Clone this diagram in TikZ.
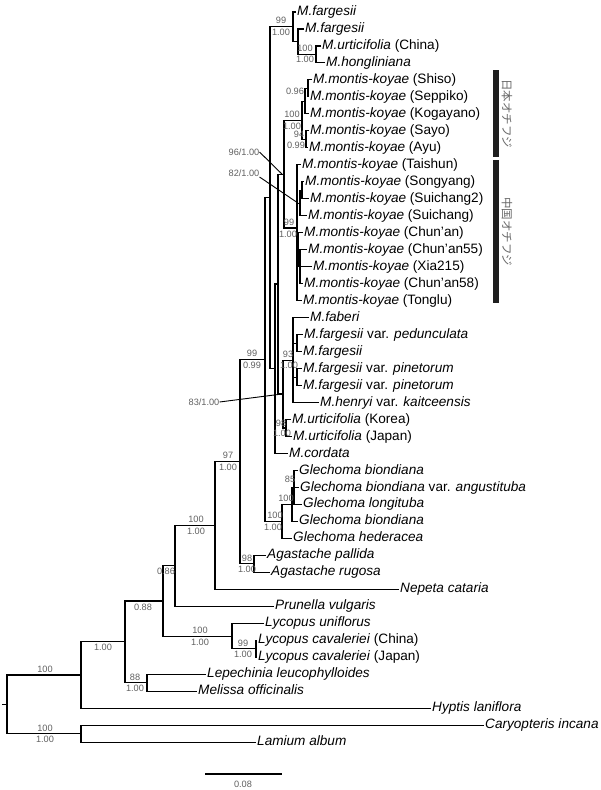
\documentclass[tikz,border=0pt]{standalone}
\usepackage{fontspec}
\setmainfont{Liberation Sans}
\newfontfamily\jpfont{Noto Sans CJK JP}
\begin{document}
\begin{tikzpicture}[x=1pt,y=-1pt,
  leaf/.style={anchor=west,inner sep=0.8pt,font=\fontsize{13.6}{15}\selectfont,text height=9.6pt,text depth=2.6pt},
  bs/.style={inner sep=0pt,font=\fontsize{9.2}{10}\selectfont,text=black!62},
  br/.style={line width=1.1pt,line join=miter},
  ptr/.style={line width=0.9pt},
  barbox/.style={fill=black!88,draw=none,minimum width=6pt,inner sep=0pt},
  grp/.style={font=\jpfont\fontsize{11.5}{12}\selectfont,text=black!60,rotate=-90,inner sep=0pt}]
\useasboundingbox (0,0) rectangle (600,790);
% leaves
\node[leaf] (l1) at (296.2,12) {\itshape M.fargesii};
\node[leaf] (l2) at (304.2,29) {\itshape M.fargesii};
\node[leaf] (l3) at (321.2,46) {\textit{M.urticifolia} (China)};
\node[leaf] (l4) at (325.2,62.9) {\itshape M.hongliniana};
\node[leaf] (l5) at (312.2,79.9) {\textit{M.montis-koyae} (Shiso)};
\node[leaf] (l6) at (309.2,96.9) {\textit{M.montis-koyae} (Seppiko)};
\node[leaf] (l7) at (309.2,113.9) {\textit{M.montis-koyae} (Kogayano)};
\node[leaf] (l8) at (309.2,130.9) {\textit{M.montis-koyae} (Sayo)};
\node[leaf] (l9) at (308.2,147.8) {\textit{M.montis-koyae} (Ayu)};
\node[leaf] (l10) at (301.2,164.8) {\textit{M.montis-koyae} (Taishun)};
\node[leaf] (l11) at (304.2,181.8) {\textit{M.montis-koyae} (Songyang)};
\node[leaf] (l12) at (309.2,198.8) {\textit{M.montis-koyae} (Suichang2)};
\node[leaf] (l13) at (307.2,215.8) {\textit{M.montis-koyae} (Suichang)};
\node[leaf] (l14) at (303.2,232.7) {\textit{M.montis-koyae} (Chun’an)};
\node[leaf] (l15) at (307.2,249.7) {\textit{M.montis-koyae} (Chun’an55)};
\node[leaf] (l16) at (312.2,266.7) {\textit{M.montis-koyae} (Xia215)};
\node[leaf] (l17) at (303.2,283.7) {\textit{M.montis-koyae} (Chun’an58)};
\node[leaf] (l18) at (302.2,300.7) {\textit{M.montis-koyae} (Tonglu)};
\node[leaf] (l19) at (309.2,317.6) {\itshape M.faberi};
\node[leaf] (l20) at (303.2,334.6) {\textit{M.fargesii} var. \textit{pedunculata}};
\node[leaf] (l21) at (302.2,351.6) {\itshape M.fargesii};
\node[leaf] (l22) at (302.2,368.6) {\textit{M.fargesii} var. \textit{pinetorum}};
\node[leaf] (l23) at (302.2,385.6) {\textit{M.fargesii} var. \textit{pinetorum}};
\node[leaf] (l24) at (319.2,402.5) {\textit{M.henryi} var. \textit{kaitceensis}};
\node[leaf] (l25) at (291.2,419.5) {\textit{M.urticifolia} (Korea)};
\node[leaf] (l26) at (292.2,436.5) {\textit{M.urticifolia} (Japan)};
\node[leaf] (l27) at (288.2,453.5) {\itshape M.cordata};
\node[leaf] (l28) at (298.2,470.5) {\itshape Glechoma biondiana};
\node[leaf] (l29) at (299.2,487.5) {\textit{Glechoma biondiana} var. \textit{angustituba}};
\node[leaf] (l30) at (302.2,504.4) {\itshape Glechoma longituba};
\node[leaf] (l31) at (298.2,521.4) {\itshape Glechoma biondiana};
\node[leaf] (l32) at (292.2,538.4) {\itshape Glechoma hederacea};
\node[leaf] (l33) at (266.2,555.4) {\itshape Agastache pallida};
\node[leaf] (l34) at (270.2,572.4) {\itshape Agastache rugosa};
\node[leaf] (l35) at (399.2,589.3) {\itshape Nepeta cataria};
\node[leaf] (l36) at (274.2,606.3) {\itshape Prunella vulgaris};
\node[leaf] (l37) at (264.2,623.3) {\itshape Lycopus uniflorus};
\node[leaf] (l38) at (257.2,640.3) {\textit{Lycopus cavaleriei} (China)};
\node[leaf] (l39) at (257.2,657.3) {\textit{Lycopus cavaleriei} (Japan)};
\node[leaf] (l40) at (206.2,674.2) {\itshape Lepechinia leucophylloides};
\node[leaf] (l41) at (197.2,691.2) {\itshape Melissa officinalis};
\node[leaf] (l42) at (431.2,708.2) {\itshape Hyptis laniflora};
\node[leaf] (l43) at (484.2,725.2) {\itshape Caryopteris incana};
\node[leaf] (l44) at (256.2,742.2) {\itshape Lamium album};
% internal nodes
\coordinate (a1) at (308,88.4);
\coordinate (c) at (305,101.15);
\coordinate (a2) at (306,139.35);
\coordinate (W) at (302,120.25);
\coordinate (Q) at (316,54.4);
\coordinate (R) at (298,41.7);
\coordinate (P) at (293,26.85);
\coordinate (HH) at (302,190.3);
\coordinate (GG) at (300,203.05);
\coordinate (KK) at (300,266.7);
\coordinate (II) at (298,249.7);
\coordinate (AA) at (297,228);
\coordinate (V) at (284,174.1);
\coordinate (sub1) at (297,343.1);
\coordinate (sub2) at (297,377.1);
\coordinate (CC) at (293,360.05);
\coordinate (DD) at (286,428);
\coordinate (BB) at (283,394);
\coordinate (T1) at (278,284);
\coordinate (T2) at (275,368.75);
\coordinate (S) at (270,197.8);
\coordinate (FF) at (294,487.45);
\coordinate (EE) at (292,504.4);
\coordinate (O) at (282,521.4);
\coordinate (N) at (265,359.6);
\coordinate (M) at (254,563.9);
\coordinate (L) at (240,461.75);
\coordinate (J) at (215,525.5);
\coordinate (E) at (175,565.9);
\coordinate (G) at (256,648.8);
\coordinate (F) at (232,636.05);
\coordinate (C) at (163,600.98);
\coordinate (D) at (147,682.7);
\coordinate (B) at (125,641.84);
\coordinate (A) at (81,675.02);
\coordinate (K) at (81,733.7);
\coordinate (root) at (7,704.36);
\coordinate (rt) at (2,704.36);
% branches
\draw[br] (l5.west) -| (a1) |- (l6.west);
\draw[br] (a1) -| (c) |- (l7.west);
\draw[br] (l8.west) -| (a2) |- (l9.west);
\draw[br] (c) -| (W) |- (a2);
\draw[br] (l3.west) -| (Q) |- (l4.west);
\draw[br] (l2.west) -| (R) |- (Q);
\draw[br] (l1.west) -| (P) |- (R);
\draw[br] (l11.west) -| (HH) |- (l12.west);
\draw[br] (HH) -| (GG) |- (l13.west);
\draw[br] (l15.west) -| (KK) |- (l17.west);
\draw[br] (KK) -- (l16.west -| KK) -- (l16.west);
\draw[br] (l14.west) -| (II) |- (KK);
\draw[br] (l10.west) -| (AA) |- (l18.west);
\draw[br] (AA |- GG) -- (GG);
\draw[br] (AA |- II) -- (II);
\draw[br] (W) -| (V) |- (AA);
\draw[br] (l20.west) -| (sub1) |- (l21.west);
\draw[br] (l22.west) -| (sub2) |- (l23.west);
\draw[br] (l19.west) -| (CC) |- (l24.west);
\draw[br] (CC |- sub1) -- (sub1);
\draw[br] (CC |- sub2) -- (sub2);
\draw[br] (l25.west) -| (DD) |- (l26.west);
\draw[br] (CC) -| (BB) |- (DD);
\draw[br] (V) -| (T1) |- (BB);
\draw[br] (T1) -| (T2) |- (l27.west);
\draw[br] (P) -| (S) |- (T2);
\draw[br] (l28.west) -| (FF) |- (l30.west);
\draw[br] (FF |- l29.west) -- (l29.west);
\draw[br] (FF) -| (EE) |- (l31.west);
\draw[br] (EE) -| (O) |- (l32.west);
\draw[br] (S) -| (N) |- (O);
\draw[br] (l33.west) -| (M) |- (l34.west);
\draw[br] (N) -| (L) |- (M);
\draw[br] (L) -| (J) |- (l35.west);
\draw[br] (J) -| (E) |- (l36.west);
\draw[br] (l38.west) -| (G) |- (l39.west);
\draw[br] (l37.west) -| (F) |- (G);
\draw[br] (E) -| (C) |- (F);
\draw[br] (l40.west) -| (D) |- (l41.west);
\draw[br] (C) -| (B) |- (D);
\draw[br] (B) -| (A) |- (l42.west);
\draw[br] (l43.west) -| (K) |- (l44.west);
\draw[br] (A) -| (root) |- (K);
\draw[br] (rt) -- (root);
% support labels
\node[bs] (s1) at (281,20) {99};
\node[bs] (s2) at (281,32) {1.00};
\node[bs] (s3) at (305,48) {100};
\node[bs] (s4) at (305,59.5) {1.00};
\node[bs] (s5) at (295,91) {0.96};
\node[bs] (s6) at (292,114) {100};
\node[bs] (s7) at (292,126) {1.00};
\node[bs] (s8) at (299,134.5) {94};
\node[bs] (s9) at (296,145.5) {0.99};
\node[bs] (s10) at (244,152) {96/1.00};
\node[bs] (s11) at (244,173) {82/1.00};
\node[bs] (s12) at (289,222) {99};
\node[bs] (s13) at (288,234) {1.00};
\node[bs] (s14) at (252,353) {99};
\node[bs] (s15) at (252,365) {0.99};
\node[bs] (s16) at (288,354) {93};
\node[bs] (s17) at (289,365) {1.00};
\node[bs] (s18) at (204,402) {83/1.00};
\node[bs] (s19) at (281,423) {98};
\node[bs] (s20) at (282,433.5) {1.00};
\node[bs] (s21) at (228,455) {97};
\node[bs] (s22) at (228,467) {1.00};
\node[bs] (s23) at (196,519) {100};
\node[bs] (s24) at (196,531) {1.00};
\node[bs] (s25) at (275,515) {100};
\node[bs] (s26) at (273,527) {1.00};
\node[bs] (s27) at (286,498) {100};
\node[bs] (s28) at (290,479.5) {85};
\node[bs] (s29) at (247,558) {98};
\node[bs] (s30) at (247,569.5) {1.00};
\node[bs] (s31) at (166,571.5) {0.86};
\node[bs] (s32) at (143,607.5) {0.88};
\node[bs] (s33) at (103,647.5) {1.00};
\node[bs] (s34) at (200,630) {100};
\node[bs] (s35) at (200,642) {1.00};
\node[bs] (s36) at (243,643.5) {99};
\node[bs] (s37) at (243,654) {1.00};
\node[bs] (s38) at (135,677.5) {88};
\node[bs] (s39) at (135,688.5) {1.00};
\node[bs] (s40) at (45,669.5) {100};
\node[bs] (s41) at (45,728.5) {100};
\node[bs] (s42) at (45,739.5) {1.00};
% pointers
\draw[ptr] (s10.east) -- ([xshift=-2pt]V);
\draw[ptr] ([yshift=-4pt]s11.east) -- ([xshift=-2pt]GG);
\draw[ptr] (s18.east) -- ([xshift=-1pt]BB);
% group bars
\node[barbox,minimum height=87pt] (bar1) at (496,113.5) {};
\node[barbox,minimum height=143pt] (bar2) at (496,231.5) {};
\node[grp] (g1) at (507,113.5) {日本オチフジ};
\node[grp] (g2) at (507,231.5) {中国オチフジ};
% scale bar
\coordinate (sb1) at (205,774);
\coordinate (sb2) at (282,774);
\draw[br] (sb1) -- (sb2);
\node[bs] (sbl) at (243,784.5) {0.08};
\end{tikzpicture}
\end{document}
